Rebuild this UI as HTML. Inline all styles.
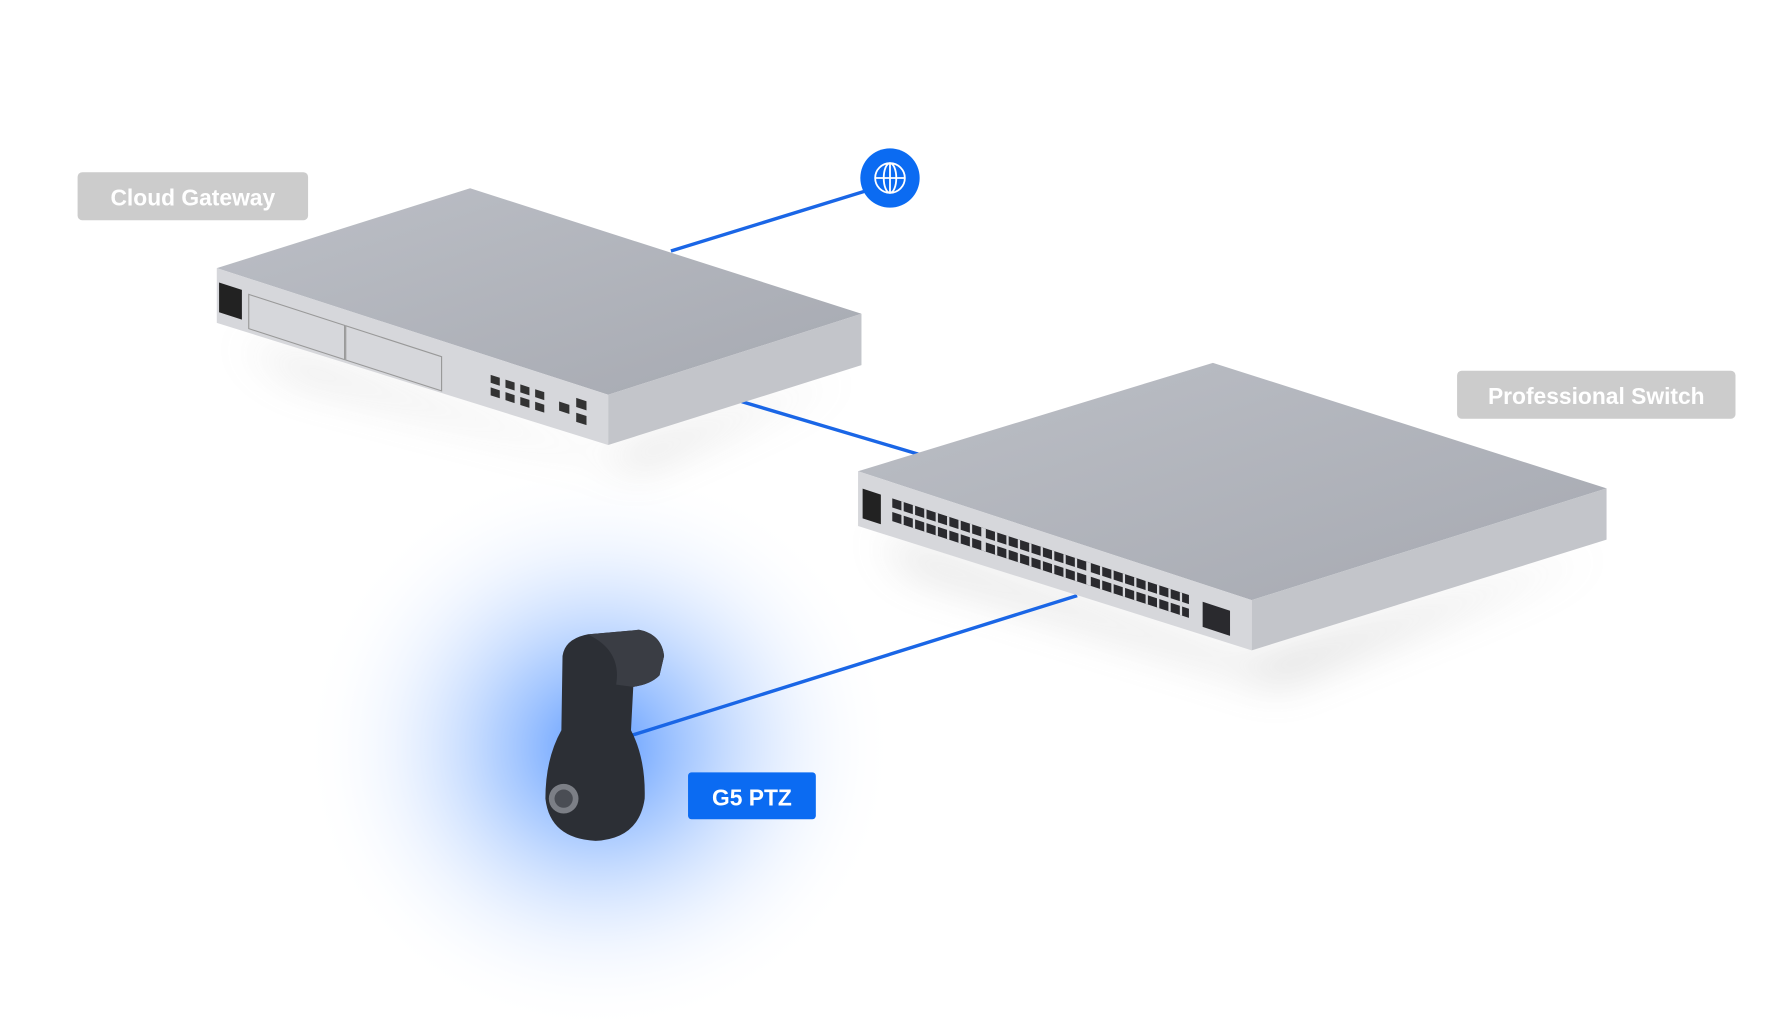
<!DOCTYPE html>
<html><head><meta charset="utf-8"><style>
html,body{margin:0;padding:0;background:#fff;}
svg{display:block;}
text{font-family:"Liberation Sans",sans-serif;font-weight:bold;fill:#fff;}
</style></head><body>
<svg width="1780" height="1020" viewBox="0 0 1560 894" preserveAspectRatio="none" xmlns="http://www.w3.org/2000/svg">
<defs>
<radialGradient id="glow" cx="0.5" cy="0.5" r="0.5">
<stop offset="0" stop-color="#3d86ff" stop-opacity="0.85"/>
<stop offset="0.35" stop-color="#6aa3ff" stop-opacity="0.5"/>
<stop offset="0.7" stop-color="#b8d2ff" stop-opacity="0.2"/>
<stop offset="1" stop-color="#ffffff" stop-opacity="0"/>
</radialGradient>
<filter id="blur" x="-50%" y="-50%" width="200%" height="200%"><feGaussianBlur stdDeviation="18"/></filter>
<linearGradient id="top1" x1="0" y1="0" x2="1" y2="1"><stop offset="0" stop-color="#bcbfc6"/><stop offset="1" stop-color="#a6a9b1"/></linearGradient>
</defs>
<rect width="1560" height="894" fill="#fff"/>
<ellipse cx="525" cy="655" rx="260" ry="250" fill="url(#glow)"/>
<polygon points="210,300 533,400 740,330 560,410 260,330" fill="#999" opacity="0.35" filter="url(#blur)"/>
<polygon points="770,470 1097,580 1400,485 1120,600 800,500" fill="#999" opacity="0.35" filter="url(#blur)"/>
<g stroke="#1a66e6" stroke-width="3" fill="none">
<line x1="588" y1="220" x2="760" y2="167"/>
<line x1="650" y1="352" x2="808" y2="399"/>
<line x1="552" y1="645" x2="944" y2="522"/>
</g>
<polygon points="190,235 412,165 755,275 533,346" fill="url(#top1)"/>
<polygon points="190,235 533,346 533,390 190,283" fill="#d6d7db"/>
<polygon points="533,346 755,275 755,320 533,390" fill="#c3c5ca"/>
<g transform="matrix(1,0.323,0,1,190,235)">
<rect x="2" y="12" width="20" height="26" fill="#222"/>
<rect x="28" y="14" width="84" height="30" fill="none" stroke="#999" stroke-width="1"/>
<rect x="113" y="14" width="84" height="30" fill="none" stroke="#999" stroke-width="1"/>
<g fill="#333">
<rect x="240" y="16" width="8" height="7"/><rect x="253" y="16" width="8" height="7"/><rect x="266" y="16" width="8" height="7"/><rect x="279" y="16" width="8" height="7"/>
<rect x="240" y="27" width="8" height="7"/><rect x="253" y="27" width="8" height="7"/><rect x="266" y="27" width="8" height="7"/><rect x="279" y="27" width="8" height="7"/>
<rect x="300" y="20" width="9" height="8"/><rect x="315" y="12" width="9" height="8"/><rect x="315" y="25" width="9" height="8"/>
</g>
</g>
<polygon points="752,413 1063,318 1408,428 1097,526" fill="url(#top1)"/>
<polygon points="752,413 1097,526 1097,570 752,461" fill="#d6d7db"/>
<polygon points="1097,526 1408,428 1408,473 1097,570" fill="#c3c5ca"/>
<g transform="matrix(1,0.326,0,1,752,413)">
<rect x="4" y="14" width="16" height="26" fill="#222"/>
<g fill="#2a2a2e">
<rect x="30" y="14" width="260" height="8"/>
<rect x="30" y="26" width="260" height="8"/>
</g>
<g fill="#d6d7db">
<rect x="38" y="14" width="2" height="20"/><rect x="48" y="14" width="2" height="20"/><rect x="58" y="14" width="2" height="20"/><rect x="68" y="14" width="2" height="20"/><rect x="78" y="14" width="2" height="20"/><rect x="88" y="14" width="2" height="20"/><rect x="98" y="14" width="2" height="20"/><rect x="108" y="14" width="4" height="20"/><rect x="120" y="14" width="2" height="20"/><rect x="130" y="14" width="2" height="20"/><rect x="140" y="14" width="2" height="20"/><rect x="150" y="14" width="2" height="20"/><rect x="160" y="14" width="2" height="20"/><rect x="170" y="14" width="2" height="20"/><rect x="180" y="14" width="2" height="20"/><rect x="190" y="14" width="2" height="20"/><rect x="200" y="14" width="4" height="20"/><rect x="212" y="14" width="2" height="20"/><rect x="222" y="14" width="2" height="20"/><rect x="232" y="14" width="2" height="20"/><rect x="242" y="14" width="2" height="20"/><rect x="252" y="14" width="2" height="20"/><rect x="262" y="14" width="2" height="20"/><rect x="272" y="14" width="2" height="20"/><rect x="282" y="14" width="2" height="20"/>
</g>
<rect x="302" y="16" width="24" height="22" fill="#2a2a2e"/>
</g>
<rect x="68" y="151" width="202" height="42" rx="4" fill="#cccccc"/>
<text x="169" y="180" font-size="20" text-anchor="middle">Cloud Gateway</text>
<rect x="1277" y="325" width="244" height="42" rx="4" fill="#cccccc"/>
<text x="1399" y="354" font-size="20" text-anchor="middle">Professional Switch</text>
<rect x="603" y="677" width="112" height="41" rx="3" fill="#0b6bf2"/>
<text x="659" y="706" font-size="20" text-anchor="middle">G5 PTZ</text>
<circle cx="780" cy="156" r="26" fill="#0b6bf2"/>
<g stroke="#fff" stroke-width="1.6" fill="none">
<circle cx="780" cy="156" r="13"/>
<ellipse cx="780" cy="156" rx="5.5" ry="13"/>
<line x1="767" y1="156" x2="793" y2="156"/>
<line x1="780" y1="143" x2="780" y2="169"/>
</g>
<path d="M493,575 Q495,560 515,556 L560,552 Q580,556 582,575 L578,592 Q570,600 555,602 L553,640 Q566,665 565,700 Q560,735 522,737 Q482,735 478,700 Q478,665 492,640 Z" fill="#2c2f35"/>
<path d="M515,556 L560,552 Q580,556 582,575 L578,592 Q570,600 555,602 L540,600 Q545,570 515,556Z" fill="#3a3d44"/>
<circle cx="494" cy="700" r="13" fill="#7c7f86"/>
<circle cx="494" cy="700" r="8" fill="#4a4d54"/>
</svg>
</body></html>
